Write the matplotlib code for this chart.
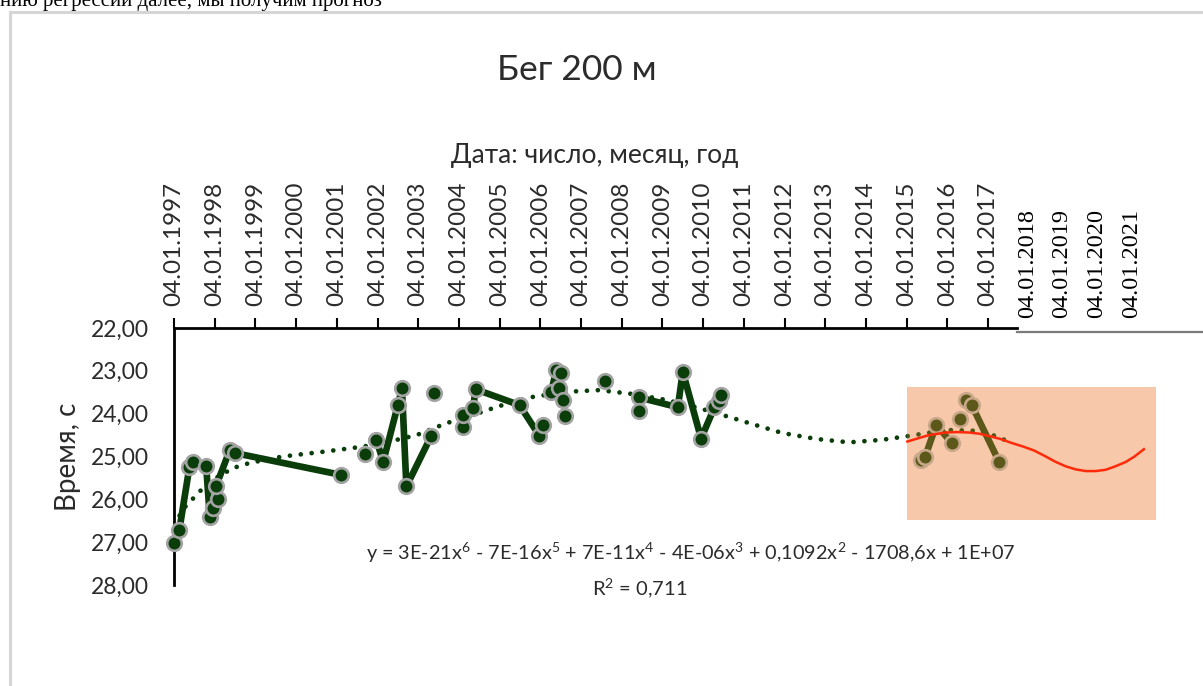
import numpy as np
import matplotlib
matplotlib.use("Agg")
from matplotlib import pyplot as plt
from matplotlib.patches import Rectangle
from matplotlib.lines import Line2D

# race results: date as decimal year (1997.0 = 04.01.1997), time in seconds
# nan marks a break in the line (missing cells in the sheet)
years = [1997.00, 1997.13, 1997.38, 1997.46, 1997.79, 1997.88, 1997.96, 1998.08, 1998.03,
         1998.37, 1998.50, 2001.11, np.nan,
         2001.69, np.nan,
         2001.97, 2002.14, 2002.50, 2002.60, 2002.71, 2003.32, np.nan,
         2003.40, np.nan,
         2004.10, 2004.10, 2004.35, 2004.41, 2005.49, 2005.98, 2006.06, np.nan,
         2006.27, 2006.39, 2006.51, 2006.47, 2006.55, np.nan,
         2006.61, np.nan,
         2007.58, np.nan,
         2008.42, 2009.38, 2009.50, 2009.95, 2010.28, 2010.38, 2010.44, np.nan,
         2008.42, np.nan,
         2015.35, 2015.45, 2015.73, 2016.11, np.nan,
         2016.30, np.nan,
         2016.45, 2016.60, 2017.27]
times = [27.02, 26.72, 25.24, 25.12, 25.22, 26.42, 26.20, 26.00, 25.70,
         24.85, 24.92, 25.43, np.nan,
         24.95, np.nan,
         24.61, 25.12, 23.80, 23.41, 25.70, 24.52, np.nan,
         23.51, np.nan,
         24.32, 24.03, 23.87, 23.43, 23.80, 24.52, 24.26, np.nan,
         23.49, 22.98, 23.04, 23.41, 23.67, np.nan,
         24.05, np.nan,
         23.23, np.nan,
         23.62, 23.85, 23.02, 24.58, 23.85, 23.70, 23.56, np.nan,
         23.93, np.nan,
         25.08, 25.02, 24.26, 24.69, np.nan,
         24.13, np.nan,
         23.68, 23.80, 25.12]

# polynomial trend line (6th order) as drawn by the spreadsheet
trend_x = [1997.00, 1997.25, 1997.50, 1997.75, 1998.00, 1998.45, 1998.86, 1999.67, 2000.66,
           2001.64, 2002.30, 2002.96, 2003.70, 2004.19, 2005.00, 2005.81, 2006.64, 2007.45,
           2008.26, 2009.10, 2009.90, 2010.72, 2011.13, 2011.94, 2012.78, 2013.59, 2014.40,
           2015.06, 2015.97, 2016.70, 2017.27, 2017.59]
trend_y = [26.60, 26.20, 25.95, 25.70, 25.52, 25.27, 25.15, 25.00, 24.89,
           24.77, 24.65, 24.50, 24.22, 24.08, 23.82, 23.61, 23.49, 23.45,
           23.54, 23.68, 23.87, 24.10, 24.22, 24.45, 24.59, 24.67, 24.61,
           24.52, 24.38, 24.40, 24.54, 24.71]

# forecast curve
fc_x = [2015.02, 2015.30, 2015.55, 2015.96, 2016.25, 2016.53, 2016.80, 2017.02, 2017.30,
        2017.60, 2017.87, 2018.13, 2018.42, 2018.65, 2018.91, 2019.15, 2019.40, 2019.65,
        2019.89, 2020.10, 2020.38, 2020.60, 2020.83]
fc_y = [24.65, 24.57, 24.50, 24.44, 24.43, 24.44, 24.47, 24.52, 24.59,
        24.69, 24.77, 24.86, 25.00, 25.12, 25.23, 25.30, 25.34, 25.34,
        25.31, 25.24, 25.13, 25.00, 24.83]

tick_years = list(range(1997, 2018))
extra_labels = ["04.01.2018", "04.01.2019", "04.01.2020", "04.01.2021"]
y_ticks = [22, 23, 24, 25, 26, 27, 28]

title = "Бег 200 м"
x_title = "Дата: число, месяц, год"
y_title = "Время, с"
equation = ("y = 3E-21x$^6$ - 7E-16x$^5$ + 7E-11x$^4$ - 4E-06x$^3$"
            " + 0,1092x$^2$ - 1708,6x + 1E+07")
r2_text = "R$^2$ = 0,711"
page_text = "нию регрессии далее, мы получим прогноз"

W, H = 1203, 686
sans = ["Lato", "DejaVu Sans"]
serif = ["Liberation Serif", "DejaVu Serif"]
green = "#0b3d0b"
olive = "#5b5819"
grey_txt = "#2b2b2b"

plt.rcParams["mathtext.fontset"] = "custom"
plt.rcParams["mathtext.rm"] = "Lato"
plt.rcParams["mathtext.it"] = "Lato"

fig = plt.figure(figsize=(W / 100, H / 100), dpi=100)
fig.patch.set_facecolor("white")

def fx(px):
    return px / W

def fy(py):
    return 1 - py / H

# chart area: y axis at px 174, years spaced 40.7 px apart
x0 = 1997.0
x1 = x0 + (W - 174) / 40.7
ax = fig.add_axes([fx(174), fy(585), fx(W - 174), (585 - 328) / H])
ax.set_xlim(x0, x1)
ax.set_ylim(28, 22)
ax.patch.set_alpha(0)

for s in ["bottom", "right"]:
    ax.spines[s].set_visible(False)
ax.spines["left"].set_linewidth(2)
ax.spines["top"].set_linewidth(2)
ax.spines["top"].set_bounds(x0, x0 + (1017 - 174) / 40.7)

ax.xaxis.tick_top()
ax.set_xticks(tick_years)
ax.set_xticklabels(["04.01.%d" % y for y in tick_years], rotation=90,
                   family=sans, fontsize=17.5, color=grey_txt)
ax.tick_params(axis="x", direction="out", length=7, width=1.5, pad=9)
ax.set_yticks(y_ticks)
ax.set_yticklabels(["%d,00" % v for v in y_ticks], family=sans, fontsize=16.5, color=grey_txt)
ax.tick_params(axis="y", length=0, pad=18)

# data and trend
ax.plot(trend_x, trend_y, color=green, lw=3.4, linestyle=(0, (0.01, 2.3)),
        dash_capstyle="round", zorder=3)
ax.plot(years, times, color=green, lw=4.8, marker="o", markersize=10.5,
        markerfacecolor=green, markeredgecolor="#a3a3a3", markeredgewidth=1.9,
        clip_on=False, zorder=4)

# forecast region
rect = Rectangle((2015.0, 23.38), 6.12, 3.10, facecolor="#f7c8a9", edgecolor="none", zorder=5)
ax.add_patch(rect)
t2, = ax.plot(trend_x, trend_y, color="#4f5818", lw=3.4, linestyle=(0, (0.01, 2.3)),
              dash_capstyle="round", zorder=6)
d2, = ax.plot(years, times, color=olive, lw=4.8, marker="o", markersize=10.5,
              markerfacecolor=olive, markeredgecolor="#c9a78a", markeredgewidth=1.9, zorder=6)
t2.set_clip_path(rect)
d2.set_clip_path(rect)
ax.plot(fc_x, fc_y, color="#ff2a0a", lw=1.8, zorder=7)

# texts
fig.text(fx(577), fy(70), title, ha="center", va="center", family=sans, fontsize=25.5, color=grey_txt)
fig.text(fx(595), fy(155), x_title, ha="center", va="center", family=sans, fontsize=19, color=grey_txt)
fig.text(fx(68), fy(457), y_title, ha="center", va="center", rotation=90, family=sans,
         fontsize=20, color=grey_txt)
fig.text(fx(366), fy(553), equation, ha="left", va="center", family=sans, fontsize=14.3, color=grey_txt)
fig.text(fx(640), fy(588), r2_text, ha="center", va="center", family=sans, fontsize=14.5, color=grey_txt)

for lbl, px in zip(extra_labels, [1028, 1062, 1097, 1132]):
    fig.text(fx(px), fy(318), lbl, ha="center", va="bottom", rotation=90, family=serif,
             fontsize=17.5, color="black")

# axis continuation and page frame
fig.add_artist(Line2D([fx(1017), 1], [fy(332), fy(332)], color="#7a7a7a", lw=1.6))
fig.add_artist(Line2D([fx(10), fx(10)], [fy(12), 0], color="#d6d6d6", lw=2.2))
fig.add_artist(Line2D([fx(10), 1], [fy(12), fy(12)], color="#d6d6d6", lw=2.2))
fig.text(0, fy(6), page_text, ha="left", va="baseline", family=serif, fontsize=15, color="black")

fig.savefig("out.png", dpi=100)
